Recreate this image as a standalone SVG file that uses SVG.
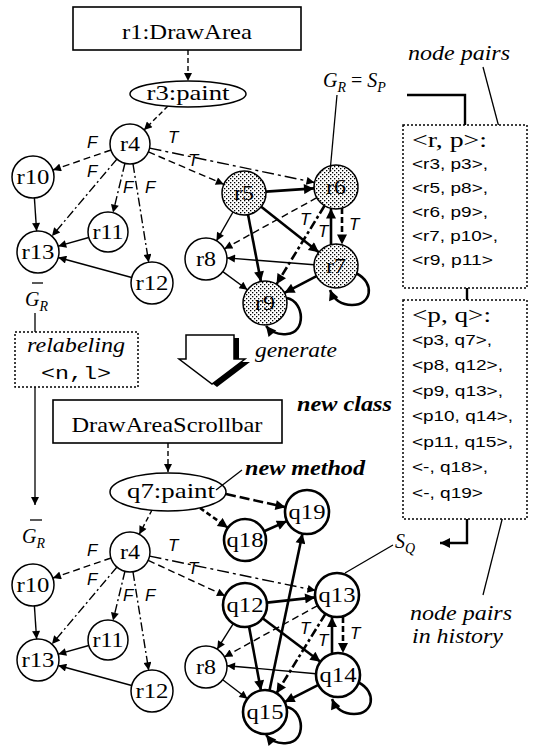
<svg xmlns="http://www.w3.org/2000/svg" width="533" height="747" viewBox="0 0 533 747">
<style>
.bg{fill:#fff}
.box{fill:#fff;stroke:#000;stroke-width:1.6}
.dbox{fill:#fff;stroke:#000;stroke-width:1.5;stroke-dasharray:2 2}
.c{fill:#fff;stroke:#000;stroke-width:1.5}
.cs{fill:url(#dots);stroke:#000;stroke-width:1.5}
.cq{fill:#fff;stroke:#000;stroke-width:2.6}
.n{font-family:"Liberation Serif",serif;font-size:22px;text-anchor:middle;fill:#000}
.t{font-family:"Liberation Serif",serif;font-size:22px;text-anchor:middle;fill:#000}
.lab{font-family:"Liberation Sans",sans-serif;font-style:italic;font-size:17px;fill:#000}
.row{font-family:"Liberation Sans",sans-serif;font-size:15px;fill:#000}
.hdr{font-family:"Liberation Serif",serif;font-size:20px;fill:#000}
.it{font-family:"Liberation Serif",serif;font-style:italic;font-size:20px;fill:#000}
.bi{font-family:"Liberation Serif",serif;font-style:italic;font-weight:bold;font-size:20px;fill:#000}
.mono{font-family:"Liberation Mono",monospace;font-size:18px;fill:#000}
.e{stroke:#000;stroke-width:1.4;fill:none;marker-end:url(#ah)}
.eb{stroke:#000;stroke-width:2.6;fill:none;marker-end:url(#ahb)}
.d{stroke:#000;stroke-width:1.4;fill:none;stroke-dasharray:7 4;marker-end:url(#ah)}
.dd{stroke:#000;stroke-width:1.4;fill:none;stroke-dasharray:9 3 2 3;marker-end:url(#ah)}
.db{stroke:#000;stroke-width:2.6;fill:none;stroke-dasharray:6 3;marker-end:url(#ahb)}
.ddb{stroke:#000;stroke-width:2.6;fill:none;stroke-dasharray:9 3 3 3;marker-end:url(#ahb)}
.ln{stroke:#000;stroke-width:1.3;fill:none}
.lnb{stroke:#000;stroke-width:2.4;fill:none}
</style>
<defs>
<pattern id="dots" width="4" height="4" patternUnits="userSpaceOnUse">
<rect width="4" height="4" fill="#fff"/>
<rect x="0" y="0" width="1.3" height="1.3" fill="#000"/>
<rect x="2" y="2" width="1.3" height="1.3" fill="#000"/>
</pattern>
<marker id="ah" viewBox="0 0 10 10" refX="10" refY="5" markerWidth="10" markerHeight="8" markerUnits="userSpaceOnUse" orient="auto"><path d="M0,0 L10,5 L0,10 z" fill="#000"/></marker>
<marker id="ahb" viewBox="0 0 10 10" refX="10" refY="5" markerWidth="12" markerHeight="10" markerUnits="userSpaceOnUse" orient="auto"><path d="M0,0 L10,5 L0,10 z" fill="#000"/></marker>
</defs>
<rect class="bg" width="533" height="747"/>

<g id="connectors">
<!-- upper graph -->
<line class="d" style="stroke-dasharray:5 3" x1="168" y1="106" x2="144" y2="130"/>
<line class="d" x1="111" y1="150" x2="53" y2="170"/>
<line class="dd" x1="117" y1="159" x2="52" y2="236"/>
<line class="dd" x1="125" y1="163" x2="113" y2="212.6"/>
<line class="dd" x1="133" y1="164" x2="148.7" y2="262.3"/>
<line class="e" x1="34.4" y1="198" x2="36.6" y2="231"/>
<line class="e" x1="88.8" y1="237.5" x2="58.2" y2="246.2"/>
<line class="e" x1="131.7" y1="277.5" x2="58.3" y2="257.5"/>
<line class="d" x1="148.4" y1="151.9" x2="223.8" y2="184.3"/>
<line class="dd" style="stroke-dasharray:12 4 3 4" x1="149.6" y1="148.1" x2="314.5" y2="182.5"/>
<line class="eb" x1="266" y1="191.6" x2="314" y2="188.4"/>
<line class="e" x1="233" y1="212" x2="216.5" y2="240.8"/>
<line class="eb" x1="248" y1="214.6" x2="260.9" y2="281.4"/>
<line class="eb" x1="261.2" y1="206.7" x2="318.8" y2="252.3"/>
<line class="d" x1="316.8" y1="197.7" x2="224.4" y2="248.8"/>
<line class="ddb" x1="324.5" y1="205.8" x2="276.5" y2="284.2"/>
<line class="db" x1="342" y1="208" x2="342" y2="244.5"/>
<line class="eb" x1="331" y1="245" x2="331" y2="208.5"/>
<line class="e" x1="314" y1="264.8" x2="227" y2="257.9"/>
<line class="eb" x1="316.5" y1="276.2" x2="284.5" y2="292.8"/>
<line class="e" x1="222.8" y1="271.6" x2="247.4" y2="289.8"/>
<path class="eb" d="M356.7,273.5 C375,283 372,305 352,305 C342,305 334,300 330,290"/>
<path class="eb" d="M287,298 C305,302 306,333 287,334 C278,335 271,332 266,326"/>
<!-- lower graph -->
<line class="d" style="stroke-dasharray:5 3" x1="152" y1="510" x2="139.3" y2="534.3"/>
<line class="d" x1="111" y1="558" x2="53" y2="578"/>
<line class="dd" x1="117" y1="567" x2="52" y2="644"/>
<line class="dd" x1="125" y1="571" x2="113" y2="620.6"/>
<line class="dd" x1="133" y1="572" x2="148.7" y2="670.3"/>
<line class="e" x1="34.4" y1="606" x2="36.6" y2="639"/>
<line class="e" x1="88.8" y1="645.5" x2="58.2" y2="654.2"/>
<line class="e" x1="131.7" y1="685.5" x2="58.3" y2="665.5"/>
<line class="db" style="stroke-dasharray:5 3" x1="200" y1="508" x2="227.9" y2="527.8"/>
<line class="db" style="stroke-dasharray:10 4" x1="226" y1="494" x2="285.5" y2="507.2"/>
<line class="eb" x1="264.2" y1="531.3" x2="286.9" y2="521.1"/>
<line class="eb" x1="269.5" y1="690.5" x2="302.5" y2="533.5"/>
<line class="d" x1="148.2" y1="560.4" x2="225" y2="595.8"/>
<line class="dd" style="stroke-dasharray:12 4 3 4" x1="149.6" y1="556.1" x2="315.5" y2="590.5"/>
<line class="eb" x1="266.9" y1="602.6" x2="315.1" y2="597.4"/>
<line class="e" x1="233.3" y1="623.6" x2="217.2" y2="649.2"/>
<line class="eb" x1="249" y1="626.6" x2="261" y2="690.4"/>
<line class="eb" x1="262.6" y1="618.2" x2="320.4" y2="661.8"/>
<line class="d" x1="317.7" y1="605.6" x2="224.4" y2="656.9"/>
<line class="ddb" x1="325.5" y1="613.7" x2="276.5" y2="693.3"/>
<line class="db" x1="343" y1="617" x2="343" y2="653"/>
<line class="eb" x1="332" y1="654" x2="332" y2="617"/>
<line class="e" x1="316" y1="673.7" x2="227" y2="665.7"/>
<line class="eb" x1="318.4" y1="684.9" x2="284.6" y2="702.1"/>
<line class="e" x1="222.7" y1="679.7" x2="247.5" y2="698.7"/>
<path class="eb" d="M358.7,682.5 C377,692 374,714 354,714 C344,714 336,709 332,699"/>
<path class="eb" d="M287,707 C305,711 306,742 287,743 C278,744 271,741 266,735"/>
<!-- class to method -->
<line class="d" style="stroke-dasharray:5 3" x1="188" y1="50" x2="188" y2="81"/>
<line class="d" style="stroke-dasharray:5 3" x1="168" y1="443" x2="168" y2="472"/>
<!-- relabeling flow -->
<line class="ln" x1="35" y1="313" x2="35" y2="332"/>
<line class="ln" x1="35" y1="387" x2="35" y2="505" style="marker-end:url(#ah)"/>
<!-- pair boxes links -->
<polyline class="lnb" points="407,95 465,95 465,125"/>
<line class="lnb" x1="467" y1="288" x2="467" y2="300"/>
<polyline class="lnb" points="467,519 467,543 440,543" style="marker-end:url(#ahb)"/>
<line class="ln" x1="483" y1="67" x2="505" y2="150" style="marker-end:url(#ah)"/>
<line class="ln" x1="483" y1="595" x2="507" y2="500" style="marker-end:url(#ah)"/>
</g>

<g id="edge-labels">
<text class="lab" x="87" y="148">F</text>
<text class="lab" x="87" y="177">F</text>
<text class="lab" x="123" y="193">F</text>
<text class="lab" x="145" y="193">F</text>
<text class="lab" x="168" y="143">T</text>
<text class="lab" x="188" y="166">T</text>
<text class="lab" x="300" y="225">T</text>
<text class="lab" x="318" y="237">T</text>
<text class="lab" x="349" y="230">T</text>
<text class="lab" x="87" y="556">F</text>
<text class="lab" x="87" y="585">F</text>
<text class="lab" x="123" y="601">F</text>
<text class="lab" x="145" y="601">F</text>
<text class="lab" x="168" y="551">T</text>
<text class="lab" x="188" y="574">T</text>
<text class="lab" x="300" y="634">T</text>
<text class="lab" x="318" y="646">T</text>
<text class="lab" x="350" y="639">T</text>
</g>

<g id="r1"><rect class="box" x="73" y="7" width="228" height="43"/><text class="t" x="187" y="39" textLength="130" lengthAdjust="spacingAndGlyphs">r1:DrawArea</text></g>
<g id="r3"><ellipse class="c" cx="188" cy="94" rx="58" ry="13"/><text class="t" x="188" y="100" textLength="83" lengthAdjust="spacingAndGlyphs">r3:paint</text></g>
<g id="u-r4"><circle class="c" cx="130" cy="144" r="20"/><text class="n" x="130" y="151" textLength="20" lengthAdjust="spacingAndGlyphs">r4</text></g>
<g id="u-r10"><circle class="c" cx="33" cy="177" r="21"/><text class="n" x="33" y="184" textLength="33" lengthAdjust="spacingAndGlyphs">r10</text></g>
<g id="u-r13"><circle class="c" cx="38" cy="252" r="21"/><text class="n" x="38" y="259" textLength="33" lengthAdjust="spacingAndGlyphs">r13</text></g>
<g id="u-r11"><circle class="c" cx="108" cy="232" r="20"/><text class="n" x="108" y="239" textLength="31" lengthAdjust="spacingAndGlyphs">r11</text></g>
<g id="u-r12"><circle class="c" cx="152" cy="283" r="21"/><text class="n" x="152" y="290" textLength="33" lengthAdjust="spacingAndGlyphs">r12</text></g>
<g id="u-r8"><circle class="c" cx="206" cy="259" r="21"/><text class="n" x="206" y="266" textLength="20" lengthAdjust="spacingAndGlyphs">r8</text></g>
<g id="r5"><circle class="cs" cx="244" cy="193" r="22"/><text class="n" x="244" y="200" textLength="20" lengthAdjust="spacingAndGlyphs">r5</text></g>
<g id="r6"><circle class="cs" cx="336" cy="187" r="22"/><text class="n" x="336" y="194" textLength="20" lengthAdjust="spacingAndGlyphs">r6</text></g>
<g id="r7"><circle class="cs" cx="336" cy="266" r="22"/><text class="n" x="336" y="273" textLength="20" lengthAdjust="spacingAndGlyphs">r7</text></g>
<g id="r9"><circle class="cs" cx="265" cy="303" r="22"/><text class="n" x="265" y="310" textLength="20" lengthAdjust="spacingAndGlyphs">r9</text></g>

<g id="cls"><rect class="box" x="53" y="400" width="229" height="43"/><text class="t" x="167" y="432" textLength="191" lengthAdjust="spacingAndGlyphs">DrawAreaScrollbar</text></g>
<g id="q7"><ellipse class="c" cx="168" cy="492" rx="58" ry="19"/><text class="t" x="171" y="498" textLength="88" lengthAdjust="spacingAndGlyphs">q7:paint</text></g>
<g id="l-r4"><circle class="c" cx="130" cy="552" r="20"/><text class="n" x="130" y="559" textLength="20" lengthAdjust="spacingAndGlyphs">r4</text></g>
<g id="l-r10"><circle class="c" cx="33" cy="585" r="21"/><text class="n" x="33" y="592" textLength="33" lengthAdjust="spacingAndGlyphs">r10</text></g>
<g id="l-r13"><circle class="c" cx="38" cy="660" r="21"/><text class="n" x="38" y="667" textLength="33" lengthAdjust="spacingAndGlyphs">r13</text></g>
<g id="l-r11"><circle class="c" cx="108" cy="640" r="20"/><text class="n" x="108" y="647" textLength="31" lengthAdjust="spacingAndGlyphs">r11</text></g>
<g id="l-r12"><circle class="c" cx="152" cy="691" r="21"/><text class="n" x="152" y="698" textLength="33" lengthAdjust="spacingAndGlyphs">r12</text></g>
<g id="l-r8"><circle class="c" cx="206" cy="667" r="21"/><text class="n" x="206" y="674" textLength="20" lengthAdjust="spacingAndGlyphs">r8</text></g>
<g id="q12"><circle class="cq" cx="245" cy="605" r="22"/><text class="n" x="245" y="612" textLength="37" lengthAdjust="spacingAndGlyphs">q12</text></g>
<g id="q13"><circle class="cq" cx="337" cy="595" r="22"/><text class="n" x="337" y="602" textLength="37" lengthAdjust="spacingAndGlyphs">q13</text></g>
<g id="q14"><circle class="cq" cx="338" cy="675" r="22"/><text class="n" x="338" y="682" textLength="37" lengthAdjust="spacingAndGlyphs">q14</text></g>
<g id="q15"><circle class="cq" cx="265" cy="712" r="22"/><text class="n" x="265" y="719" textLength="37" lengthAdjust="spacingAndGlyphs">q15</text></g>
<g id="q18"><circle class="cq" cx="245" cy="540" r="21"/><text class="n" x="245" y="547" textLength="37" lengthAdjust="spacingAndGlyphs">q18</text></g>
<g id="q19"><circle class="cq" cx="307" cy="512" r="22"/><text class="n" x="307" y="519" textLength="37" lengthAdjust="spacingAndGlyphs">q19</text></g>

<g id="relabel"><rect class="dbox" x="15" y="332" width="123" height="55"/><text class="it" x="76" y="352" text-anchor="middle" textLength="98" lengthAdjust="spacingAndGlyphs">relabeling</text><text class="mono" x="76" y="379" text-anchor="middle" textLength="70" lengthAdjust="spacingAndGlyphs">&lt;n,l&gt;</text></g>

<g id="gr-upper"><line class="ln" x1="32" y1="283" x2="43" y2="283"/><text class="it" x="25" y="306">G<tspan font-size="14" dy="5">R</tspan></text></g>
<g id="gr-lower"><line class="ln" x1="30" y1="520" x2="42" y2="520"/><text class="it" x="22" y="543">G<tspan font-size="14" dy="5">R</tspan></text></g>

<g id="generate-arrow">
<polygon points="191,338 239,338 239,362 250,362 217,387 184,362 191,362" fill="#000"/>
<polygon points="186,335 234,335 234,359 245,359 212,384 179,359 186,359" fill="#fff" stroke="#000" stroke-width="1.5"/>
<text class="it" x="255" y="357" textLength="82" lengthAdjust="spacingAndGlyphs">generate</text>
</g>

<g id="annotations">
<text class="bi" x="297" y="411" textLength="95" lengthAdjust="spacingAndGlyphs">new class</text>
<text class="bi" x="245" y="475" textLength="120" lengthAdjust="spacingAndGlyphs">new method</text>
<line class="ln" x1="216" y1="490" x2="242" y2="470"/>
<text class="it" x="323" y="87">G<tspan font-size="14" dy="5">R</tspan><tspan dy="-5" font-style="normal"> = </tspan>S<tspan font-size="14" dy="5">P</tspan></text>
<line class="ln" x1="337" y1="95" x2="330" y2="172"/>
<text class="it" x="395" y="548">S<tspan font-size="14" dy="5">Q</tspan></text>
<line class="ln" x1="393" y1="545" x2="345" y2="573"/>
<text class="it" x="408" y="60" textLength="102" lengthAdjust="spacingAndGlyphs">node pairs</text>
<text class="it" x="410" y="620" textLength="102" lengthAdjust="spacingAndGlyphs">node pairs</text>
<text class="it" x="412" y="643" textLength="91" lengthAdjust="spacingAndGlyphs">in history</text>
</g>

<g id="pairs-rp">
<rect class="dbox" x="403" y="125" width="124" height="163"/>
<text class="hdr" x="412" y="147" textLength="75" lengthAdjust="spacingAndGlyphs">&lt;r, p&gt;:</text>
<text class="row" x="412" y="169" textLength="76" lengthAdjust="spacingAndGlyphs">&lt;r3, p3&gt;,</text>
<text class="row" x="412" y="193" textLength="76" lengthAdjust="spacingAndGlyphs">&lt;r5, p8&gt;,</text>
<text class="row" x="412" y="217" textLength="76" lengthAdjust="spacingAndGlyphs">&lt;r6, p9&gt;,</text>
<text class="row" x="412" y="241" textLength="86" lengthAdjust="spacingAndGlyphs">&lt;r7, p10&gt;,</text>
<text class="row" x="412" y="265" textLength="81" lengthAdjust="spacingAndGlyphs">&lt;r9, p11&gt;</text>
</g>
<g id="pairs-pq">
<rect class="dbox" x="403" y="300" width="124" height="219"/>
<text class="hdr" x="412" y="322" textLength="79" lengthAdjust="spacingAndGlyphs">&lt;p, q&gt;:</text>
<text class="row" x="412" y="345" textLength="80" lengthAdjust="spacingAndGlyphs">&lt;p3, q7&gt;,</text>
<text class="row" x="412" y="370" textLength="91" lengthAdjust="spacingAndGlyphs">&lt;p8, q12&gt;,</text>
<text class="row" x="412" y="396" textLength="91" lengthAdjust="spacingAndGlyphs">&lt;p9, q13&gt;,</text>
<text class="row" x="412" y="421" textLength="101" lengthAdjust="spacingAndGlyphs">&lt;p10, q14&gt;,</text>
<text class="row" x="412" y="447" textLength="101" lengthAdjust="spacingAndGlyphs">&lt;p11, q15&gt;,</text>
<text class="row" x="412" y="472" textLength="76" lengthAdjust="spacingAndGlyphs">&lt;-, q18&gt;,</text>
<text class="row" x="412" y="498" textLength="71" lengthAdjust="spacingAndGlyphs">&lt;-, q19&gt;</text>
</g>
</svg>
